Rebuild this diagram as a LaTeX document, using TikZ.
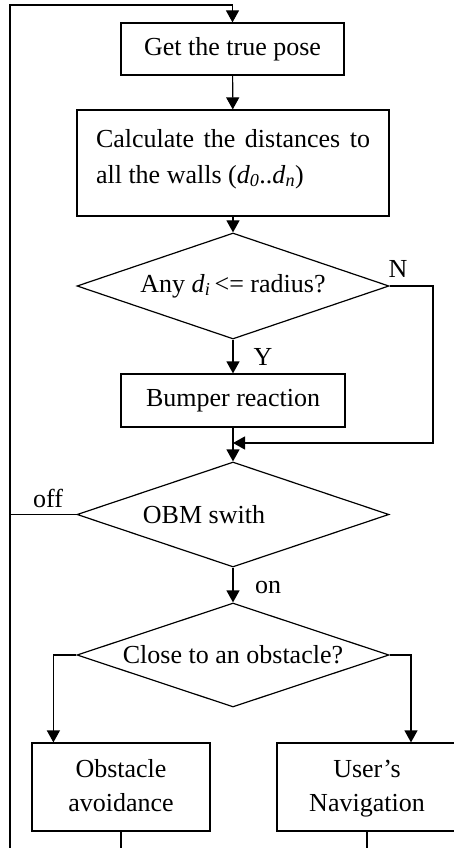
\documentclass[tikz,border=0pt]{standalone}
\usepackage{fontspec}
\setmainfont{Liberation Serif}
\usetikzlibrary{arrows.meta,shapes.geometric}
\begin{document}
\begin{tikzpicture}[x=1pt,y=-1pt,
  line width=1.2pt,
  every node/.style={font=\fontsize{26}{36}\selectfont},
  box/.style={draw, rectangle, inner sep=0pt, align=center},
  dec/.style={draw, diamond, inner sep=0pt, minimum width=312pt, minimum height=106pt},
  arr/.style={-{Triangle[width=13pt,length=12pt]}},
  lbl/.style={inner sep=0pt}]
\useasboundingbox (0,0) rectangle (453,848);

% boxes and decisions
\node[box, minimum width=223pt, minimum height=52pt] (b1) at (232.5,49) {Get the true pose};
\node[box, minimum width=312pt, minimum height=106pt,
  label={[text width=274pt, align=justify, yshift=4pt]center:Calculate the distances to\linebreak all the walls (\textit{d}\textsubscript{\textit{0}}..\textit{d}\textsubscript{\textit{n}})}] (b2) at (233,163) {};
\node[dec, label={center:Any \textit{d}\textsubscript{\textit{i}}\,<= radius?}] (d1) at (233,286) {};
\node[box, minimum width=224pt, minimum height=53pt] (b3) at (233,400.5) {Bumper reaction};
\node[dec, minimum height=105pt, label={[xshift=-29pt]center:OBM swith}] (d2) at (233,514.5) {};
\node[dec, minimum height=104pt, label={center:Close to an obstacle?}] (d3) at (233,655) {};
\node[box, minimum width=178pt, minimum height=88pt] (b4) at (121,787) {\strut Obstacle\\[-2pt]\strut avoidance};
\node[box, minimum width=180pt, minimum height=88pt] (b5) at (367,787) {\strut User’s\\[-2pt]\strut Navigation};

% coordinates
\coordinate (lb) at (10,848);
\coordinate (lt) at (10,5);
\coordinate (tp) at (232.5,5);
\coordinate (nr) at (433,286);
\coordinate (nb) at (433,443);
\coordinate (mg) at (233,443);
\coordinate (offp) at (10,514.5);
\coordinate (e4) at (121,848);
\coordinate (e5) at (367,848);

% connectors
\draw[arr] (lb) -- (lt) -- (tp) -- (b1.north);
\draw[arr] (b1) -- (b2);
\draw[arr] (b2) -- (d1);
\draw[arr] (d1) -- (b3);
\draw[arr] (d1.east) -- (nr) -- (nb) -- (mg);
\draw[arr] (b3) -- (d2);
\draw (d2.west) -- (offp);
\draw[arr] (d2) -- (d3);
\draw[arr] (d3.west) -| ([xshift=22pt]b4.north west);
\draw[arr] (d3.east) -| ([xshift=44pt]b5.north);
\draw (b4.south) -- (e4);
\draw (b5.south) -- (e5);

% labels
\node[lbl] (ly) at (263,357) {Y};
\node[lbl] (ln) at (398,269) {N};
\node[lbl] (loff) at (48,498) {off};
\node[lbl] (lon) at (268,587) {on};
\end{tikzpicture}
\end{document}
